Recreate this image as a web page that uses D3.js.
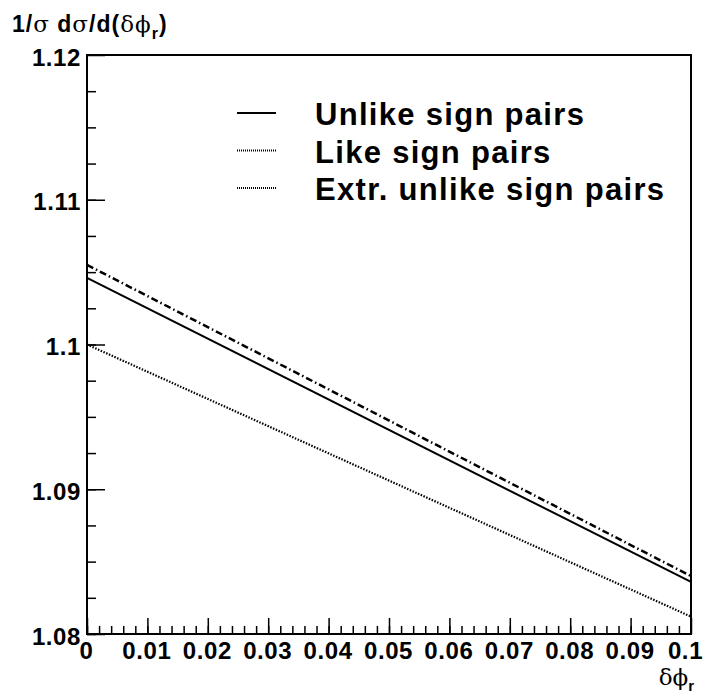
<!DOCTYPE html>
<meta charset="utf-8">
<style>
body { margin: 0; background: white; }
text { font-family: "Liberation Sans", Arial, sans-serif; }
.lab { font-weight: bold; font-size: 24px; letter-spacing: 0.6px; }
.leg { font-weight: bold; font-size: 31px; letter-spacing: 1.3px; }
</style>
<body>
<script src="https://d3js.org/d3.v7.min.js"></script>
<script>
var width = 707,
    height = 694;

// values
var xTicks = [0, 0.01, 0.02, 0.03, 0.04, 0.05, 0.06, 0.07, 0.08, 0.09, 0.1];
var xLabels = ["0", "0.01", "0.02", "0.03", "0.04", "0.05", "0.06", "0.07", "0.08", "0.09", "0.1"];
var yTicks = [1.08, 1.09, 1.10, 1.11, 1.12];
var yLabels = ["1.08", "1.09", "1.1", "1.11", "1.12"];

var xVals = [0, 0.1];
var unlike = [1.1046, 1.0836];
var like = [1.1000, 1.0812];
var extrUnlike = [1.1055, 1.0840];

var legendNames = ["Unlike sign pairs", "Like sign pairs", "Extr. unlike sign pairs"];

var x = d3.scaleLinear().domain([0, 0.1]).range([87, 691]);
var y = d3.scaleLinear().domain([1.08, 1.12]).range([634, 55]);

var svg = d3.select("body").append("svg")
    .attr("width", width)
    .attr("height", height);

// minor ticks
svg.append("g")
    .attr("transform", "translate(0,634)")
    .call(d3.axisBottom(x).tickValues(d3.range(0, 50).map(i => i * 0.002)).tickSize(-8).tickFormat(""))
    .call(g => g.select(".domain").remove())
    .call(g => g.selectAll("line").attr("stroke-width", 1.5));

svg.append("g")
    .attr("transform", "translate(87,0)")
    .call(d3.axisLeft(y).tickValues(d3.range(0, 16).map(i => 1.08 + i * 0.0025)).tickSize(-9).tickFormat(""))
    .call(g => g.select(".domain").remove())
    .call(g => g.selectAll("line").attr("stroke-width", 1.5));

// major ticks + labels
svg.append("g")
    .attr("transform", "translate(0,634)")
    .call(d3.axisBottom(x).tickValues(xTicks).tickSizeInner(-16).tickSizeOuter(0)
      .tickFormat((d, i) => xLabels[i]))
    .call(g => g.select(".domain").remove())
    .call(g => g.selectAll("line").attr("stroke-width", 1.5))
    .call(g => g.selectAll("text").attr("class", "lab").attr("fill", "black")
      .attr("y", 25).attr("dy", 0)
      .attr("dx", (d, i) => i === xTicks.length - 1 ? -6 : -1));

svg.append("g")
    .attr("transform", "translate(87,0)")
    .call(d3.axisLeft(y).tickValues(yTicks).tickSizeInner(-18).tickSizeOuter(0)
      .tickFormat((d, i) => yLabels[i]))
    .call(g => g.select(".domain").remove())
    .call(g => g.selectAll("line").attr("stroke-width", 1.5))
    .call(g => g.selectAll("text").attr("class", "lab").attr("fill", "black")
      .attr("x", -6).attr("dy", 10));

// frame
svg.append("rect")
    .attr("x", 87).attr("y", 55)
    .attr("width", 604).attr("height", 579)
    .attr("fill", "none").attr("stroke", "black").attr("stroke-width", 2);

var line = d3.line().x(d => x(d[0])).y(d => y(d[1]));

svg.append("path")
    .datum(xVals.map((v, i) => [v, unlike[i]]))
    .attr("d", line).attr("fill", "none").attr("stroke", "black").attr("stroke-width", 2);

svg.append("path")
    .datum(xVals.map((v, i) => [v, like[i]]))
    .attr("d", line).attr("fill", "none").attr("stroke", "black").attr("stroke-width", 2.2)
    .attr("stroke-dasharray", "1.5,1.5");

svg.append("path")
    .datum(xVals.map((v, i) => [v, extrUnlike[i]]))
    .attr("d", line).attr("fill", "none").attr("stroke", "black").attr("stroke-width", 2.5)
    .attr("stroke-dasharray", "7,3,1.5,3");

// legend
var leg = svg.append("g");
var legDash = [null, "1,1", "1,1"];
legendNames.forEach(function(name, i) {
  var yy = 113 + i * 37.5;
  leg.append("line")
      .attr("x1", 237).attr("x2", 276).attr("y1", yy).attr("y2", yy)
      .attr("stroke", "black").attr("stroke-width", 2)
      .attr("stroke-dasharray", legDash[i]);
  leg.append("text").attr("class", "leg")
      .attr("x", 315).attr("y", yy + 12)
      .text(name);
});

// axis titles
var yt = svg.append("text").attr("x", 12).attr("y", 32)
    .attr("font-size", 23).attr("font-weight", "bold").attr("letter-spacing", 1);
yt.append("tspan").text("1/");
yt.append("tspan").attr("font-weight", "normal").attr("font-family", "DejaVu Serif, serif").text("σ");
yt.append("tspan").text(" d");
yt.append("tspan").attr("font-weight", "normal").attr("font-family", "DejaVu Serif, serif").text("σ");
yt.append("tspan").text("/d(");
yt.append("tspan").attr("font-weight", "normal").attr("font-family", "DejaVu Serif, serif").text("δϕ");
yt.append("tspan").attr("font-size", 16).attr("dy", 7).text("r");
yt.append("tspan").attr("dy", -7).text(")");

var xt = svg.append("text").attr("x", 694).attr("y", 685)
    .attr("text-anchor", "end").attr("font-size", 23);
xt.append("tspan").attr("font-family", "DejaVu Serif, serif").text("δϕ");
xt.append("tspan").attr("font-size", 15).attr("font-weight", "bold").attr("dy", 6).text("r");
</script>
</body>
</html>
